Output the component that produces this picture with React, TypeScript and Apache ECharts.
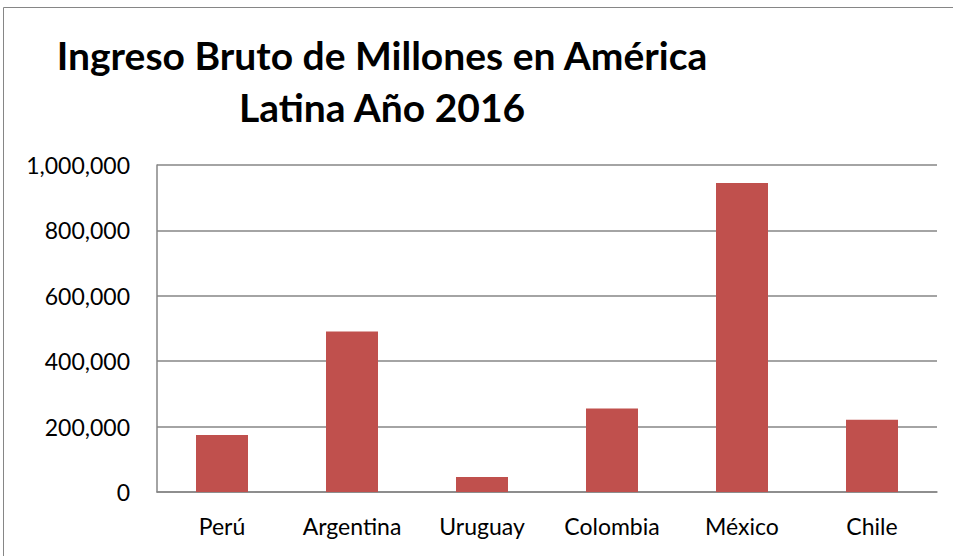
import React, { useEffect, useRef } from "react";
import * as echarts from "echarts";

const categories = ["Perú", "Argentina", "Uruguay", "Colombia", "México", "Chile"];
const values = [174000, 491000, 46000, 255000, 945000, 221000];
const titleText = "Ingreso Bruto de Millones en América\nLatina Año 2016";

export default function App() {
  const ref = useRef<HTMLDivElement>(null);
  useEffect(() => {
    if (!ref.current) return;
    const chart = echarts.init(ref.current, undefined, { renderer: "svg" });
    chart.setOption({
      animation: false,
      backgroundColor: "#ffffff",
      title: {
        text: titleText,
        left: 377,
        top: 24,
        textAlign: "center",
        textStyle: {
          fontFamily: "Lato",
          fontSize: 39,
          fontWeight: "bold",
          lineHeight: 52,
          color: "#000000",
        },
      },
      graphic: [
        {
          type: "rect",
          shape: { x: 3.5, y: 7.5, width: 960, height: 560 },
          style: { fill: "none", stroke: "#868686", lineWidth: 1 },
          z: 100,
        },
      ],
      grid: { left: 157, right: 16, top: 165, bottom: 64, containLabel: false },
      xAxis: {
        type: "category",
        data: categories,
        axisLine: { show: true, lineStyle: { color: "#868686", width: 1.5 } },
        axisTick: { show: false },
        axisLabel: {
          fontFamily: "Lato",
          fontSize: 23,
          color: "#000000",
          margin: 22,
          interval: 0,
          hideOverlap: false,
        },
      },
      yAxis: {
        type: "value",
        min: 0,
        max: 1000000,
        interval: 200000,
        axisLine: { show: true, lineStyle: { color: "#868686", width: 1.5 } },
        axisTick: { show: false },
        splitLine: { show: true, lineStyle: { color: "#868686", width: 1.5 } },
        axisLabel: {
          fontFamily: "Lato",
          fontSize: 23,
          color: "#000000",
          margin: 27,
          formatter: (v: number) => v.toLocaleString("en-US"),
        },
      },
      series: [
        {
          type: "bar",
          data: values,
          barCategoryGap: "60%",
          itemStyle: { color: "#C0504D" },
        },
      ],
    });
    return () => chart.dispose();
  }, []);
  return (
    <div
      ref={ref}
      style={{ position: "fixed", left: 0, top: 0, width: 953, height: 556 }}
    />
  );
}
